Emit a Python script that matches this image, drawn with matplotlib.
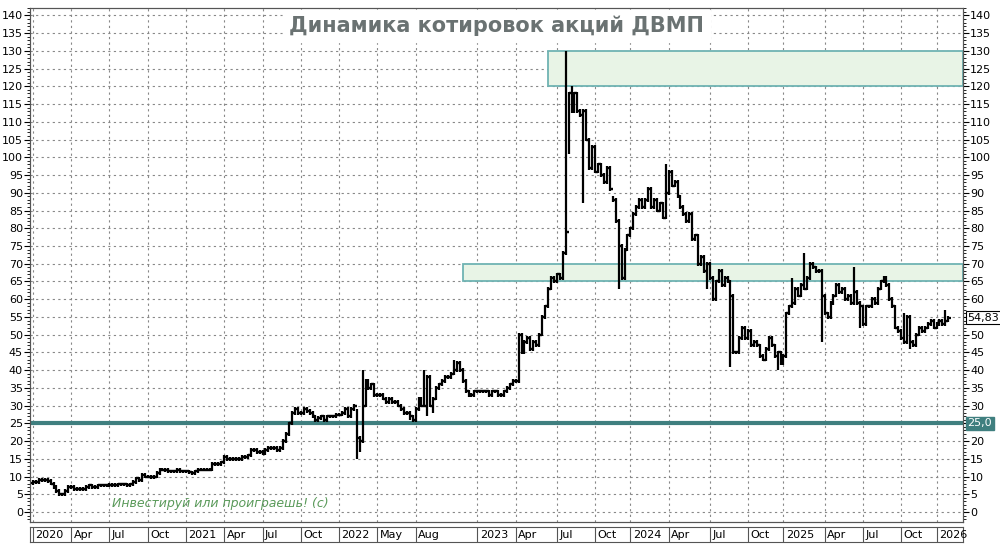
import matplotlib
matplotlib.use("Agg")
import matplotlib.pyplot as plt
from matplotlib.patches import Rectangle
from matplotlib.ticker import MultipleLocator, FuncFormatter

# Недельные цены закрытия ДВМП (по индексу бара)
closes = [
    # 2020
    8.5, 8.5, 9, 9, 9, 8.8, 8, 7, 6, 5, 5, 6, 7, 7, 6.5, 6.5, 6.5, 6.5, 7, 7.5,
    7, 7, 7.5, 7.5, 7.5, 7.5, 7.7, 7.7, 7.7, 7.8, 7.8, 7.8, 7.6, 7.8, 8.5, 9.5,
    9, 10.5, 10, 10, 9.8, 10, 11, 12, 12, 11.8, 11.5, 11.5, 11.5, 11.8, 11.5, 11.5,
    # 2021
    11.5, 11.2, 11, 11.5, 12, 12, 12, 12, 12, 13.5, 13.5, 13.5, 14, 15.5, 15, 15,
    15, 15, 15, 15.5, 15.5, 16, 17.5, 17.5, 17, 17, 16.5, 17.5, 18, 18, 18, 17.5,
    18, 20, 22, 25, 28, 29, 28, 28, 29, 28.5, 28, 27, 26, 26.5, 27, 26, 27, 27, 27, 27.5,
    # 2022
    27.5, 28, 29, 27, 29, 30, 21, 20, 30, 37, 35, 36, 33, 33,
    33, 32, 31, 32, 31, 31, 30, 29, 28, 28, 27, 26, 29,
    32, 30, 30, 38, 30, 32, 35, 36, 37, 38, 38, 39, 40, 42, 40, 37, 34, 33, 33, 34, 34,
    # 2023
    34, 34, 34, 33, 34, 34, 33, 33, 34, 35, 36, 37, 37,
    50, 45, 48, 49, 46, 48, 47, 50, 55, 58, 63, 66, 65, 67,
    66, 73, 79, 118, 113, 118, 113, 112, 113, 105, 97, 103, 96, 98, 95, 93, 97, 91,
    88, 82, 75, 66, 74, 78, 80,
    # 2024
    84, 86, 88, 86, 88, 91, 86, 88, 85, 87, 83, 90, 96, 92, 93, 89, 86, 84, 82, 84,
    77, 78, 70, 72, 68, 70, 66, 60, 65, 68, 64, 66, 65, 61, 45, 45, 49, 52, 49, 51,
    47, 48, 47, 44, 43, 46, 49, 47, 44, 45, 42, 44,
    # 2025
    56, 58, 59, 63, 61, 64, 63, 66, 70, 69, 68, 68, 61, 56, 55, 59, 61, 64, 62, 63,
    60, 61, 59, 62, 59, 58, 53, 58, 58, 60, 59, 63, 65, 66, 64, 60, 58, 52, 51, 49,
    48, 55, 48, 47, 50, 52, 51, 52, 53, 54, 52, 53, 54, 53, 54, 54.83,
]
first_open = 8.2
# отдельные экстремумы (индекс бара, значение)
spike_highs = [(181, 130), (183, 120), (197, 89), (215, 98), (110, 29), (112, 40),
               (133, 40), (143, 43), (258, 66), (262, 73), (279, 69), (296, 56), (310, 57)]
spike_lows = [(110, 15), (111, 17), (134, 27), (136, 28), (128, 26), (182, 101), (187, 87),
              (199, 63), (229, 63), (237, 41), (253, 40), (268, 48), (281, 52), (298, 46)]

last_price = 54.83
support = 25.0
zones = [(175.0, 120, 130), (146.0, 65, 70)]  # старт бара, низ, верх

tick_pos = [0, 13, 26, 39, 52, 65, 78, 91, 104, 117, 130, 151, 164, 178, 191,
            203, 216, 230, 243, 255, 269, 282, 295, 307]
tick_labels = ["2020", "Apr", "Jul", "Oct", "2021", "Apr", "Jul", "Oct", "2022", "May",
               "Aug", "2023", "Apr", "Jul", "Oct", "2024", "Apr", "Jul", "Oct", "2025",
               "Apr", "Jul", "Oct", "2026"]

opens = [first_open] + closes[:-1]
highs = [max(o, c) + 0.5 for o, c in zip(opens, closes)]
lows = [min(o, c) - 0.5 for o, c in zip(opens, closes)]
for i, v in spike_highs:
    highs[i] = v
for i, v in spike_lows:
    lows[i] = v
idx = list(range(len(closes)))

fig = plt.figure(figsize=(10, 5.47), dpi=100)
ax = fig.add_axes([0.030, 0.0457, 0.933, 0.9397])
ax.set_xlim(-1, 316)
ax.set_ylim(-2.8, 142.1)

# зоны
for start, lo, hi in zones:
    ax.add_patch(Rectangle((start, lo), 316 - start, hi - lo, facecolor="#e8f4e6",
                           edgecolor="#6fb3b3", linewidth=1.3, zorder=1))
ax.axhline(support, color="#3f7f7f", linewidth=3, zorder=2)

ax.vlines(idx, lows, highs, color="black", linewidth=1.6, zorder=3)
ax.hlines(opens, [i - 1.0 for i in idx], idx, color="black", linewidth=1.6, zorder=3)
ax.hlines(closes, idx, [i + 1.0 for i in idx], color="black", linewidth=1.6, zorder=3)

ax.set_xticks(tick_pos)
ax.set_xticklabels([])
ax.tick_params(axis="x", length=0)
ax.yaxis.set_major_locator(MultipleLocator(5))
ax.yaxis.set_minor_locator(MultipleLocator(1))
ax.tick_params(axis="y", which="both", labelsize=8, direction="out", pad=1)
ax.tick_params(axis="y", which="major", length=4)
ax.tick_params(axis="y", which="minor", length=2)
ax.grid(True, linestyle=(0, (2, 3)), color="#888888", linewidth=0.8)
ax.set_axisbelow(True)
for s in ax.spines.values():
    s.set_color("#555555")

# правая шкала без подписей, закрытых метками цены
rax = ax.twinx()
rax.set_ylim(ax.get_ylim())
rax.yaxis.set_major_locator(MultipleLocator(5))
rax.yaxis.set_minor_locator(MultipleLocator(1))
rax.yaxis.set_major_formatter(FuncFormatter(
    lambda v, p: "" if round(v) in (25, 55) else f"{v:.0f}"))
rax.tick_params(axis="y", which="both", labelsize=8, direction="out", pad=1)
rax.tick_params(axis="y", which="major", length=4)
rax.tick_params(axis="y", which="minor", length=2)
for s in rax.spines.values():
    s.set_color("#555555")

ax.text(0.5, 0.965, "Динамика котировок акций ДВМП", transform=ax.transAxes,
        ha="center", va="center", fontsize=15, color="#6a7272",
        fontweight="semibold", backgroundcolor="white", zorder=5)
ax.text(27, 0.7, "Инвестируй или проиграешь! (с)", fontsize=9, color="#5a9a5a",
        style="italic", va="bottom", zorder=5)

rax.text(317.5, last_price, "54,83", fontsize=8, va="center", ha="left", clip_on=False,
         bbox=dict(boxstyle="square,pad=0.15", facecolor="white", edgecolor="black",
                   linewidth=0.8))
rax.text(317.5, support, "25,0", fontsize=8, va="center", ha="left", clip_on=False,
         color="white", bbox=dict(boxstyle="square,pad=0.15", facecolor="#3f7f7f",
                                  edgecolor="#3f7f7f"))

# полоса с датами
dax = fig.add_axes([0.030, 0.009, 0.933, 0.028])
dax.set_xlim(-1, 316)
dax.set_ylim(0, 1)
dax.set_xticks([])
dax.set_yticks([])
for s in dax.spines.values():
    s.set_color("#555555")
for p, lab in zip(tick_pos, tick_labels):
    dax.axvline(p, color="#555555", linewidth=0.8)
    dax.text(p + 0.8, 0.45, lab, fontsize=8, va="center", ha="left")

fig.savefig("out.png", dpi=100)
